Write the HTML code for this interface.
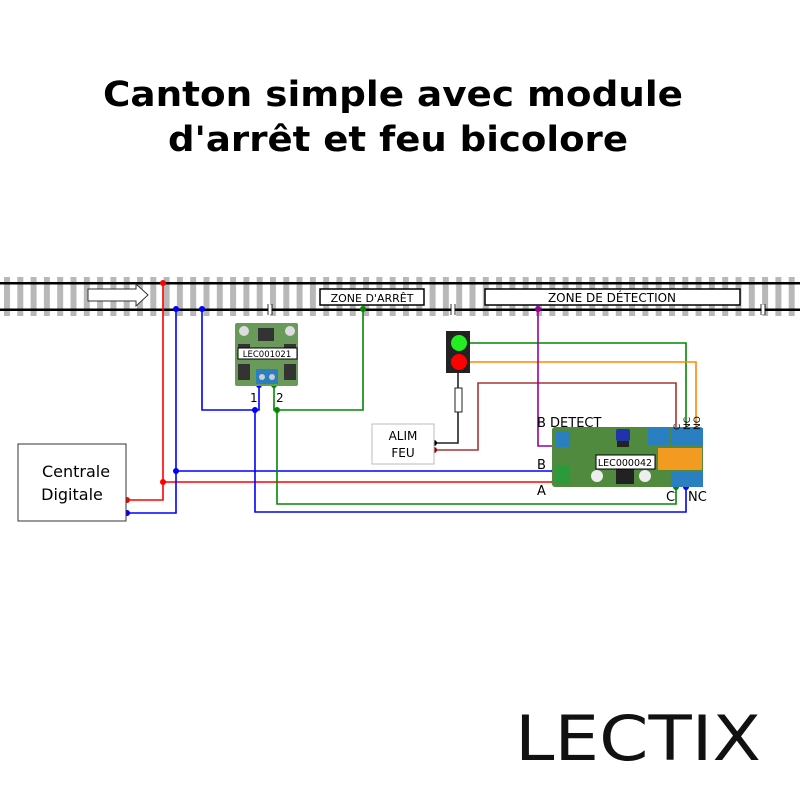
<!DOCTYPE html>
<html><head><meta charset="utf-8"><style>
html,body{margin:0;padding:0;background:#fff;width:800px;height:800px;overflow:hidden}
svg{display:block}
text{font-family:"DejaVu Sans","Liberation Sans",sans-serif}
</style></head><body>
<svg width="800" height="800" viewBox="0 0 800 800" xmlns="http://www.w3.org/2000/svg">
<text x="393" y="106" font-size="35" font-weight="bold" text-anchor="middle" textLength="580" lengthAdjust="spacingAndGlyphs">Canton simple avec module</text>
<text x="398" y="151" font-size="35" font-weight="bold" text-anchor="middle" textLength="460" lengthAdjust="spacingAndGlyphs">d'arrêt et feu bicolore</text>

<pattern id="p" x="4" y="277" width="13.3" height="39" patternUnits="userSpaceOnUse"><rect x="0" y="0" width="6" height="39" fill="#b8b8b8"/></pattern>
<rect x="0" y="277" width="800" height="39" fill="url(#p)"/>
<rect x="0" y="282" width="800" height="2.5" fill="#000"/>
<rect x="0" y="308.5" width="800" height="2.5" fill="#000"/>
<g stroke="#fff" stroke-width="3"><line x1="270" y1="305" x2="270" y2="314"/><line x1="453" y1="305" x2="453" y2="314"/><line x1="763" y1="305" x2="763" y2="314"/></g>
<g stroke="#000" stroke-width="0.8"><line x1="268" y1="304" x2="268" y2="315"/><line x1="272" y1="304" x2="272" y2="315"/><line x1="451" y1="304" x2="451" y2="315"/><line x1="455" y1="304" x2="455" y2="315"/><line x1="761" y1="304" x2="761" y2="315"/><line x1="765" y1="304" x2="765" y2="315"/></g>
<polygon points="88,289 136,289 136,284 148,295 136,306 136,301 88,301" fill="#fff" stroke="#333" stroke-width="1"/>
<rect x="320" y="289" width="104" height="16" fill="#fff" stroke="#000" stroke-width="1.5"/>
<text x="372" y="302" font-size="11" text-anchor="middle">ZONE D'ARRÊT</text>
<rect x="485" y="289" width="255" height="16" fill="#fff" stroke="#000" stroke-width="1.5"/>
<text x="612" y="302" font-size="12" text-anchor="middle">ZONE DE DÉTECTION</text>

<g fill="none" stroke-width="1.6">
<polyline stroke="#f00" points="163,283 163,500 127,500"/>
<polyline stroke="#f00" points="163,482 555,482"/>
<polyline stroke="#00f" points="176,309 176,513 127,513"/>
<polyline stroke="#00f" points="176,471 555,471"/>
<polyline stroke="#00f" points="202,309 202,410 255,410 259,410 259,385"/>
<polyline stroke="#00f" points="255,410 255,512 686,512 686,487"/>
<polyline stroke="#080" points="363,309 363,410 277,410"/>
<polyline stroke="#080" points="274,385 274,410 277,410 277,504 676,504 676,487"/>
<polyline stroke="#080" points="469,343 686,343 686,433"/>
<polyline stroke="#f80" points="469,362 696,362 696,433"/>
<polyline stroke="#a33" points="434,450 478,450 478,383 676,383 676,433"/>
<polyline stroke="#222" points="458,373 458,443 434,443"/>
<polyline stroke="#909" points="538,309 538,446 555,446"/>
</g>
<g>
<circle cx="163" cy="283" r="3" fill="#f00"/><circle cx="163" cy="482" r="3" fill="#f00"/><circle cx="127" cy="500" r="3" fill="#f00"/><circle cx="555" cy="482" r="3.5" fill="#f00"/>
<circle cx="176" cy="309" r="3" fill="#00f"/><circle cx="176" cy="471" r="3" fill="#00f"/><circle cx="127" cy="513" r="3" fill="#00f"/><circle cx="555" cy="471" r="3.5" fill="#00f"/>
<circle cx="202" cy="309" r="3" fill="#00f"/><circle cx="255" cy="410" r="3" fill="#00f"/><circle cx="259" cy="385" r="3" fill="#00f"/><circle cx="686" cy="487" r="3" fill="#00f"/>
<circle cx="363" cy="309" r="3" fill="#080"/><circle cx="277" cy="410" r="3" fill="#080"/><circle cx="274" cy="385" r="3" fill="#080"/><circle cx="676" cy="487" r="3" fill="#080"/>
<circle cx="538" cy="309" r="3" fill="#909"/><circle cx="555" cy="446" r="3" fill="#909"/>
<circle cx="434" cy="443" r="3" fill="#000"/><circle cx="434" cy="450" r="3" fill="#900"/>
<circle cx="676" cy="433" r="3" fill="#900"/><circle cx="686" cy="433" r="3" fill="#080"/><circle cx="696" cy="433" r="3" fill="#f80"/>
</g>

<rect x="18" y="444" width="108" height="77" fill="#fff" stroke="#333" stroke-width="1"/>
<text x="76" y="477" font-size="16" text-anchor="middle">Centrale</text>
<text x="72" y="500" font-size="16" text-anchor="middle">Digitale</text>

<rect x="235" y="323" width="63" height="63" fill="#6a9a5a" rx="2"/>
<rect x="258" y="328" width="16" height="13" fill="#333"/>
<rect x="238" y="344" width="12" height="10" fill="#333"/><rect x="284" y="344" width="12" height="10" fill="#333"/>
<rect x="238" y="364" width="12" height="16" fill="#333"/><rect x="284" y="364" width="12" height="16" fill="#333"/>
<circle cx="244" cy="331" r="5" fill="#ddd"/><circle cx="290" cy="331" r="5" fill="#ddd"/>
<rect x="238" y="348" width="59" height="11" fill="#fff" stroke="#000"/>
<text x="267" y="357" font-size="8.5" text-anchor="middle">LEC001021</text>
<rect x="256" y="369" width="22" height="15" fill="#2a7fc0"/>
<circle cx="262" cy="377" r="3" fill="#ccc"/><circle cx="272" cy="377" r="3" fill="#ccc"/>
<text x="250" y="402" font-size="12">1</text><text x="276" y="402" font-size="12">2</text>

<rect x="446" y="331" width="24" height="42" fill="#222"/>
<circle cx="459" cy="343" r="8" fill="#2e2"/><circle cx="459" cy="362" r="8" fill="#f00"/>
<rect x="455" y="388" width="7" height="24" fill="#fff" stroke="#222"/>
<rect x="372" y="424" width="62" height="40" fill="#fff" stroke="#bbb"/>
<text x="403" y="440" font-size="12" text-anchor="middle">ALIM</text>
<text x="403" y="457" font-size="12" text-anchor="middle">FEU</text>

<rect x="552" y="427" width="151" height="60" fill="#4f8a3e" rx="3"/>
<rect x="556" y="431" width="14" height="16" fill="#2a7fc0"/>
<rect x="556" y="466" width="14" height="18" fill="#2a9a3a"/>
<rect x="648" y="428" width="22" height="17" fill="#2a7fc0"/>
<rect x="671" y="428" width="32" height="17" fill="#2a7fc0"/>
<rect x="658" y="448" width="44" height="22" fill="#f39a20"/>
<rect x="671" y="472" width="32" height="15" fill="#2a7fc0"/>
<rect x="616" y="466" width="18" height="18" fill="#222"/>
<circle cx="597" cy="476" r="6" fill="#eee"/><circle cx="645" cy="476" r="6" fill="#eee"/>
<rect x="617" y="439" width="12" height="8" fill="#222"/>
<rect x="616" y="429" width="14" height="12" fill="#23a" rx="2"/>
<rect x="596" y="455" width="59" height="14" fill="#fff" stroke="#000"/>
<text x="625" y="466" font-size="9.5" text-anchor="middle">LEC000042</text>
<text x="537" y="427" font-size="13">B DETECT</text>
<text x="537" y="469" font-size="13">B</text>
<text x="537" y="495" font-size="13">A</text>
<text x="666" y="501" font-size="13">C</text>
<text x="688" y="501" font-size="13">NC</text>
<text font-size="9" transform="translate(680,430) rotate(-90)">C</text>
<text font-size="9" transform="translate(690,430) rotate(-90)">NC</text>
<text font-size="9" transform="translate(700,430) rotate(-90)">NO</text>

<text x="515" y="760" font-size="62" font-family="Liberation Sans, sans-serif" fill="#111" textLength="246" lengthAdjust="spacingAndGlyphs">LECTIX</text>
</svg>
</body></html>
